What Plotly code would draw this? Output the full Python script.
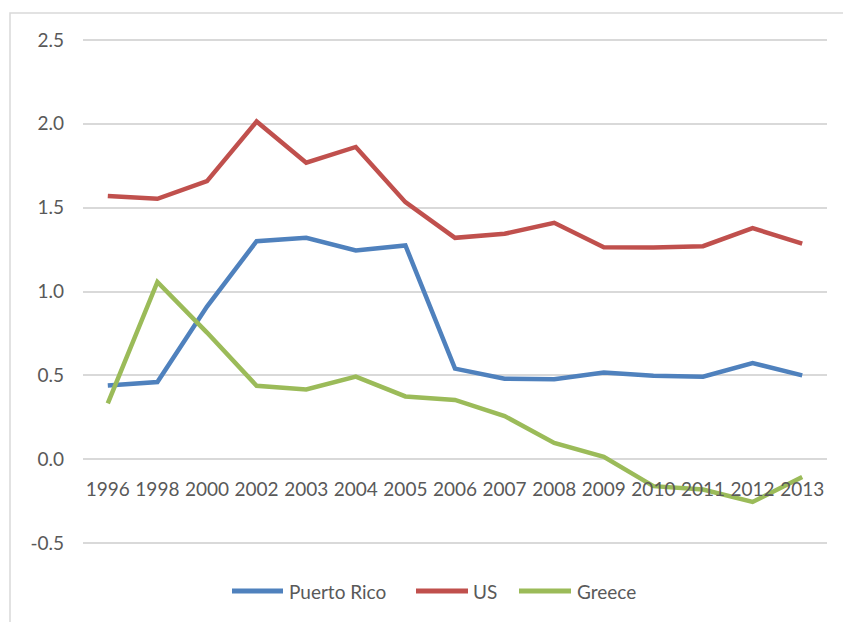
import plotly.graph_objects as go

# Category axis (years) and the three series
years = ["1996", "1998", "2000", "2002", "2003", "2004", "2005", "2006",
         "2007", "2008", "2009", "2010", "2011", "2012", "2013"]

puerto_rico = [0.44, 0.46, 0.91, 1.30, 1.32, 1.245, 1.275, 0.54,
               0.48, 0.477, 0.517, 0.498, 0.492, 0.573, 0.50]
us = [1.57, 1.553, 1.658, 2.014, 1.768, 1.862, 1.533, 1.32,
      1.344, 1.41, 1.264, 1.262, 1.27, 1.378, 1.286]
greece = [0.333, 1.057, 0.755, 0.438, 0.416, 0.492, 0.374, 0.353,
          0.257, 0.097, 0.014, -0.161, -0.181, -0.255, -0.106]

y_ticks = [-0.5, 0.0, 0.5, 1.0, 1.5, 2.0, 2.5]
y_tick_text = ["-0.5", "0.0", "0.5", "1.0", "1.5", "2.0", "2.5"]

series = [
    ("Puerto Rico", puerto_rico, "#4f81bd"),
    ("US", us, "#c0504d"),
    ("Greece", greece, "#9bbb59"),
]

FONT = "Lato, Carlito, Calibri, sans-serif"
TEXT = "#595959"
GRID = "#d9d9d9"

W, H = 843, 622
# plot area reaches 3 px past the outer gridlines so they are not clipped
ML, MR, MT, MB = 83, 16, 37, 76
PW, PH = W - ML - MR, H - MT - MB
pad = 3 * 3 / (PH - 6)  # value-units equivalent of 3 px

Y_LO, Y_HI = -0.5 - pad, 2.5 + pad


def px_x(x):
    return (x - ML) / PW


def px_y(y):
    return (H - MB - y) / PH


fig = go.Figure()
for name, vals, color in series:
    fig.add_trace(go.Scatter(
        x=years, y=vals, name=name, mode="lines",
        line=dict(color=color, width=4.5),
        showlegend=False,
    ))

# Hand-placed legend row under the plot
legend_y = px_y(591)
legend_items = [(232, 283, 287), (416, 468, 471), (519, 571, 575)]
shapes = []
annotations = []
for (name, _, color), (x0, x1, xt) in zip(series, legend_items):
    shapes.append(dict(type="line", xref="paper", yref="paper",
                       x0=px_x(x0), x1=px_x(x1), y0=legend_y, y1=legend_y,
                       line=dict(color=color, width=5)))
    annotations.append(dict(xref="paper", yref="paper", x=px_x(xt), y=legend_y,
                            text=name, showarrow=False, xanchor="left",
                            yanchor="middle",
                            font=dict(family=FONT, size=19, color=TEXT)))

# Chart-area frame
shapes.append(dict(type="rect", xref="paper", yref="paper",
                   x0=px_x(10), x1=px_x(W + 20), y0=px_y(13), y1=px_y(H + 20),
                   line=dict(color=GRID, width=1.5), layer="below"))

fig.update_layout(
    width=W, height=H,
    margin=dict(l=ML, r=MR, t=MT, b=MB),
    paper_bgcolor="white", plot_bgcolor="white",
    font=dict(family=FONT, size=19, color=TEXT),
    shapes=shapes, annotations=annotations,
    xaxis=dict(
        type="category", range=[-0.5, len(years) - 0.5],
        anchor="free", position=(0 - Y_LO) / (Y_HI - Y_LO),
        showgrid=False, showline=False, zeroline=False, ticks="",
        tickfont=dict(family=FONT, size=19, color=TEXT),
        ticklabelstandoff=17,
    ),
    yaxis=dict(
        range=[Y_LO, Y_HI], tickvals=y_ticks, ticktext=y_tick_text,
        showgrid=True, gridcolor=GRID, gridwidth=1.5,
        zeroline=False, showline=False, ticks="",
        tickfont=dict(family=FONT, size=19, color=TEXT),
        ticklabelstandoff=18,
    ),
)

fig.write_html("out.html")
